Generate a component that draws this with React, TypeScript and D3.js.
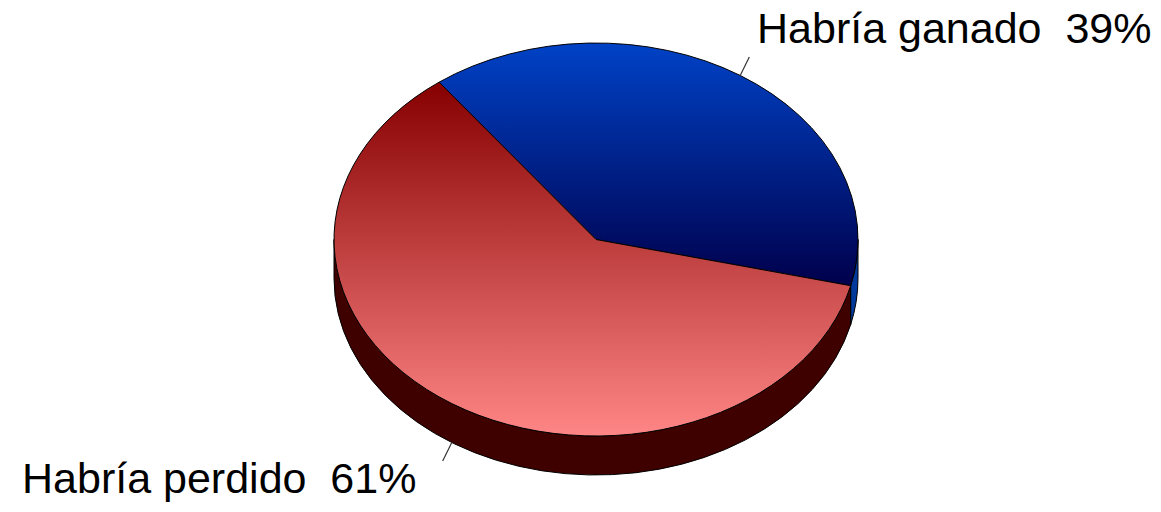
import React from "react";
import * as d3 from "d3";

const labels = ["Habría ganado", "Habría perdido"];
const values = [39, 61];
const percentLabels = ["39%", "61%"];
const topColors = [
  ["#0042c6", "#00004c"],
  ["#860000", "#ff8686"],
];
const sideColors = ["#003a9c", "#3f0000"];

const W = 1161;
const H = 512;
const cx = 596;
const cy = 239.5;
const rx = 262;
const ry = 196.5;
const depth = 39;
const startDeg = -36.8;

function pt(a: number, dy = 0): [number, number] {
  return [cx + rx * Math.sin(a), cy - ry * Math.cos(a) + dy];
}

export default function App() {
  const pie = d3
    .pie<number>()
    .sort(null)
    .value((d) => d)
    .startAngle((startDeg * Math.PI) / 180)
    .endAngle((startDeg * Math.PI) / 180 + 2 * Math.PI);
  const arcs = pie(values);

  const topPath = (a0: number, a1: number) => {
    const p0 = pt(a0);
    const p1 = pt(a1);
    const large = a1 - a0 > Math.PI ? 1 : 0;
    const p = d3.path();
    p.moveTo(cx, cy);
    p.lineTo(p0[0], p0[1]);
    return (
      p.toString() +
      `A${rx},${ry} 0 ${large} 1 ${p1[0]},${p1[1]}Z`
    );
  };

  const sidePath = (a0: number, a1: number) => {
    const norm = (a: number) => ((a % (2 * Math.PI)) + 2 * Math.PI) % (2 * Math.PI);
    const s = norm(a0);
    const e = s + (a1 - a0);
    const vs = Math.PI / 2;
    const ve = (3 * Math.PI) / 2;
    const segs: [number, number][] = [];
    for (const off of [-2 * Math.PI, 0, 2 * Math.PI]) {
      const ss = Math.max(s + off, vs);
      const ee = Math.min(e + off, ve);
      if (ee > ss) segs.push([ss, ee]);
    }
    return segs
      .map(([ss, ee]) => {
        const p0 = pt(ss);
        const p1 = pt(ee);
        const q1 = pt(ee, depth);
        const q0 = pt(ss, depth);
        return `M${p0[0]},${p0[1]}A${rx},${ry} 0 0 1 ${p1[0]},${p1[1]}L${q1[0]},${q1[1]}A${rx},${ry} 0 0 0 ${q0[0]},${q0[1]}Z`;
      })
      .join("");
  };

  const leader = arcs.map((a, i) => {
    const mid = (a.startAngle + a.endAngle) / 2;
    const bottom = Math.cos(mid) < 0;
    const p = pt(mid, bottom ? depth : 0);
    const ux = Math.sin(mid);
    const uy = -Math.cos(mid);
    const len = 22;
    return { p, q: [p[0] + ux * len * 0.75, p[1] + uy * len] as [number, number], i };
  });

  const labelPos: [number, number][] = [
    [757, 43],
    [22, 493],
  ];

  return (
    <svg
      width={W}
      height={H}
      style={{ position: "absolute", left: 0, top: 0, background: "#fff" }}
      fontFamily="'Liberation Sans', Arial, sans-serif"
    >
      <defs>
        {topColors.map((c, i) => (
          <linearGradient key={i} id={`g${i}`} x1="0" y1="0" x2="0" y2="1">
            <stop offset="0" stopColor={c[0]} />
            <stop offset="1" stopColor={c[1]} />
          </linearGradient>
        ))}
      </defs>
      {arcs.map((a, i) => (
        <path
          key={`s${i}`}
          d={sidePath(a.startAngle, a.endAngle)}
          fill={sideColors[i]}
          stroke="#000"
          strokeWidth={1}
        />
      ))}
      {arcs.map((a, i) => (
        <path
          key={`t${i}`}
          d={topPath(a.startAngle, a.endAngle)}
          fill={`url(#g${i})`}
          stroke="#000"
          strokeWidth={1}
        />
      ))}
      {leader.map((l) => (
        <line
          key={`l${l.i}`}
          x1={l.p[0]}
          y1={l.p[1]}
          x2={l.q[0]}
          y2={l.q[1]}
          stroke="#333"
          strokeWidth={1.2}
        />
      ))}
      {labels.map((lab, i) => (
        <text
          key={`x${i}`}
          x={labelPos[i][0]}
          y={labelPos[i][1]}
          fontSize={43}
          fill="#000"
          style={{ whiteSpace: "pre" }}
        >
          {`${lab}  ${percentLabels[i]}`}
        </text>
      ))}
    </svg>
  );
}
